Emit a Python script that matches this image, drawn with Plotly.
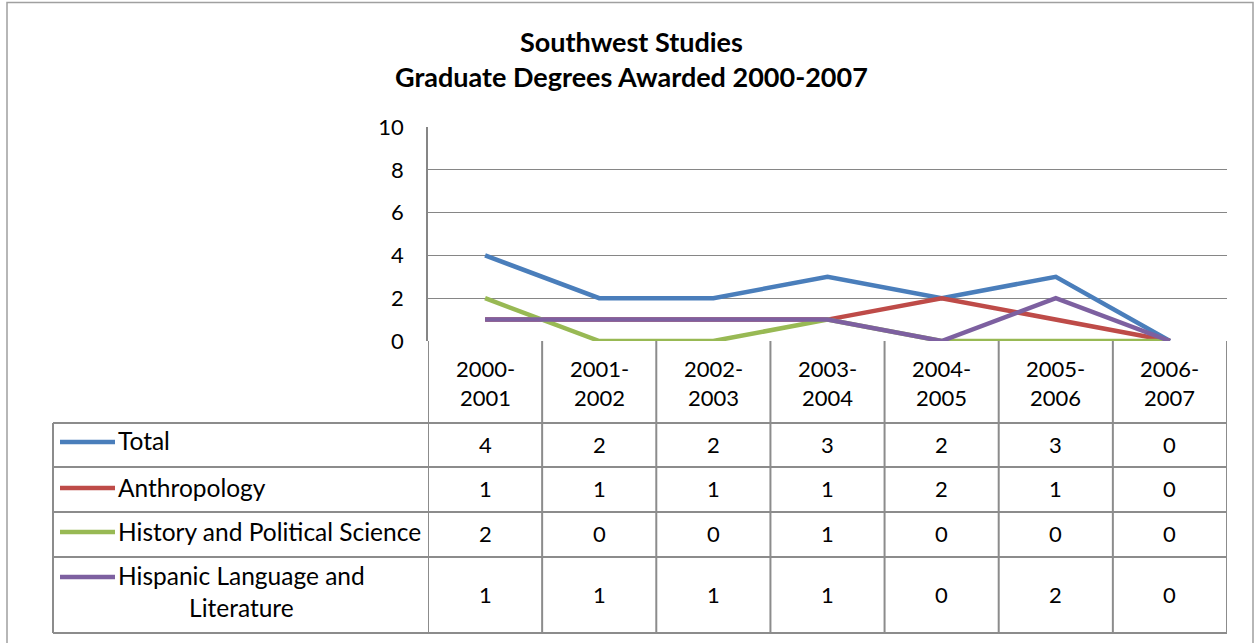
import plotly.graph_objects as go

# ---------------- data ----------------
categories = ["2000-2001", "2001-2002", "2002-2003", "2003-2004",
              "2004-2005", "2005-2006", "2006-2007"]
series_names = ["Total", "Anthropology", "History and Political Science",
                "Hispanic Language and Literature"]
total = [4, 2, 2, 3, 2, 3, 0]
anthropology = [1, 1, 1, 1, 2, 1, 0]
history_polsci = [2, 0, 0, 1, 0, 0, 0]
hispanic_lit = [1, 1, 1, 1, 0, 2, 0]
y_ticks = [0, 2, 4, 6, 8, 10]
title_lines = ["Southwest Studies", "Graduate Degrees Awarded 2000-2007"]

# ---------------- styling ----------------
W, H = 1255, 643
colors = ["#4A7EBB", "#BE4B48", "#98B954", "#7D60A0"]
FONT = "Lato"
GRID = "#868686"
BORDER = "#8C8C8C"
NUM_SIZE = 22
LABEL_SIZE = 24.5
LINE_W = 4.5

# plot-area pixel geometry
PX_L, PX_R = 428, 1227
PY_T, PY_B = 127, 341
TABLE_L = 53
row_lines = [423, 467, 512, 557, 633]


def px(x):
    return x / W


def py(y):
    return 1 - y / H


series = [total, anthropology, history_polsci, hispanic_lit]
xs = list(range(len(categories)))

fig = go.Figure()
for name, vals, col in zip(series_names, series, colors):
    fig.add_trace(go.Scatter(x=xs, y=vals, mode="lines", name=name,
                             line=dict(color=col, width=LINE_W), showlegend=False,
                             hoverinfo="x+y+name"))

shapes = []
# outer chart border
shapes.append(dict(type="rect", xref="paper", yref="paper",
                   x0=px(7), x1=px(1253), y0=py(660), y1=py(2.5),
                   line=dict(color="#A0A0A0", width=1.5)))
# table horizontal lines
for yl in row_lines:
    shapes.append(dict(type="line", xref="paper", yref="paper",
                       x0=px(TABLE_L), x1=px(PX_R), y0=py(yl), y1=py(yl),
                       line=dict(color=BORDER, width=2)))
# table left edge
shapes.append(dict(type="line", xref="paper", yref="paper",
                   x0=px(TABLE_L), x1=px(TABLE_L), y0=py(row_lines[0]), y1=py(row_lines[-1]),
                   line=dict(color=BORDER, width=2)))
# vertical dividers at category boundaries (header + data rows)
for k in range(len(categories) + 1):
    shapes.append(dict(type="line", xref="x", yref="paper",
                       x0=k - 0.5, x1=k - 0.5, y0=py(PY_B), y1=py(row_lines[-1]),
                       line=dict(color=BORDER, width=2)))
# legend keys
row_centers = [(row_lines[i] + row_lines[i + 1]) / 2 for i in range(4)]
key_y = [442, 488, 532, 577]
for ky, col in zip(key_y, colors):
    shapes.append(dict(type="line", xref="paper", yref="paper",
                       x0=px(60), x1=px(115), y0=py(ky), y1=py(ky),
                       line=dict(color=col, width=LINE_W)))

annotations = []
# title
annotations.append(dict(text="<b>" + title_lines[0] + "<br>" + title_lines[1] + "</b>",
                        xref="paper", yref="paper", x=px(631), y=py(58.5),
                        xanchor="center", yanchor="middle", showarrow=False,
                        font=dict(family=FONT, size=27, color="black")))
# category header labels
for i, c in enumerate(categories):
    a, b = c.split("-")
    annotations.append(dict(text=a + "-<br>" + b, xref="x", yref="paper",
                            x=i, y=py(382.5), xanchor="center", yanchor="middle",
                            showarrow=False, align="center",
                            font=dict(family=FONT, size=NUM_SIZE, color="black")))
# legend labels
label_texts = ["Total", "Anthropology", "History and Political Science",
               "Hispanic Language and<br>Literature"]
label_y = [440.5, 487.5, 531.5, 591.5]
for t, ly in zip(label_texts, label_y):
    annotations.append(dict(text=t, xref="paper", yref="paper", x=px(116), y=py(ly),
                            xanchor="left", yanchor="middle", showarrow=False,
                            align="center",
                            font=dict(family=FONT, size=LABEL_SIZE, color="black")))
# table values
for r, vals in enumerate(series):
    for i, v in enumerate(vals):
        annotations.append(dict(text=str(v), xref="x", yref="paper", x=i,
                                y=py(row_centers[r] - 1), xanchor="center",
                                yanchor="middle", showarrow=False,
                                font=dict(family=FONT, size=NUM_SIZE, color="black")))

fig.update_layout(
    width=W, height=H,
    margin=dict(l=0, r=0, t=0, b=0),
    paper_bgcolor="white", plot_bgcolor="white",
    shapes=shapes, annotations=annotations,
    xaxis=dict(domain=[px(PX_L), px(PX_R)], range=[-0.5, len(categories) - 0.5],
               showticklabels=False, showgrid=False, zeroline=False,
               showline=False, fixedrange=True, automargin=False),
    yaxis=dict(domain=[py(PY_B), py(PY_T)], range=[0, 10], tickvals=y_ticks,
               showgrid=True, gridcolor=GRID, gridwidth=1, zeroline=False,
               showline=True, linecolor=GRID, linewidth=1.5,
               ticks="", ticklabelstandoff=18, automargin=False,
               tickfont=dict(family=FONT, size=NUM_SIZE, color="black"), fixedrange=True),
    font=dict(family=FONT),
)

post = """
var gd = document.getElementById('{plot_id}');
document.documentElement.style.margin = '0';
document.documentElement.style.overflow = 'hidden';
document.body.style.margin = '0';
document.body.style.overflow = 'hidden';
gd.style.position = 'fixed';
gd.style.left = '0px';
gd.style.top = '0px';
"""
fig.write_html("out.html", post_script=post, config={"displayModeBar": False})
